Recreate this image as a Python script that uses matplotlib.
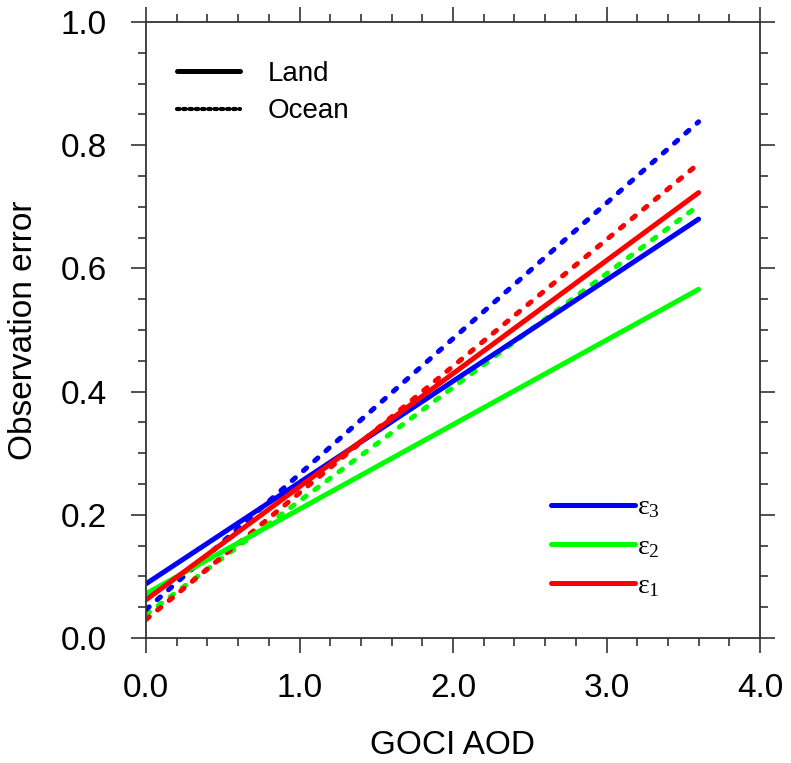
import matplotlib
matplotlib.use("Agg")
import matplotlib.pyplot as plt
from matplotlib.lines import Line2D
from matplotlib.ticker import MultipleLocator, FormatStrFormatter

plt.rcParams['font.family'] = ['Liberation Sans', 'DejaVu Sans']
plt.rcParams['mathtext.fontset'] = 'custom'
plt.rcParams['mathtext.rm'] = 'Liberation Serif'
plt.rcParams['mathtext.it'] = 'Liberation Serif'
plt.rcParams['mathtext.default'] = 'regular'

# ---- data ----
aod = [0.0, 3.6]
land_e1 = [0.062, 0.723]
land_e2 = [0.072, 0.566]
land_e3 = [0.088, 0.680]
ocean_e1 = [0.030, 0.770]
ocean_e2 = [0.038, 0.702]
ocean_e3 = [0.046, 0.838]

eps_labels = [r'$\mathregular{ε_3}$', r'$\mathregular{ε_2}$', r'$\mathregular{ε_1}$']
surface_labels = ['Land', 'Ocean']
xticks = [0.0, 1.0, 2.0, 3.0, 4.0]
yticks = [0.0, 0.2, 0.4, 0.6, 0.8, 1.0]

blue, green, red = '#0000ff', '#00ff00', '#ff0000'
LW = 3.6
DASH = (0.85, 2.15)

fig = plt.figure(figsize=(7.91, 7.63), dpi=100)
ax = fig.add_axes([146/791, 1 - 638/763, 614/791, 616/763])

def dashed(x, y, c):
    ax.plot(x, y, color=c, lw=LW, dashes=DASH, dash_capstyle='round',
            solid_capstyle='round')

def solid(x, y, c):
    ax.plot(x, y, color=c, lw=LW, solid_capstyle='round')

dashed(aod, ocean_e2, green)
dashed(aod, ocean_e1, red)
dashed(aod, ocean_e3, blue)
solid(aod, land_e2, green)
solid(aod, land_e3, blue)
solid(aod, land_e1, red)

ax.set_xlim(0, 4.0)
ax.set_ylim(0, 1.0)
ax.set_xticks(xticks)
ax.set_yticks(yticks)
ax.xaxis.set_minor_locator(MultipleLocator(0.2))
ax.yaxis.set_minor_locator(MultipleLocator(0.05))
ax.xaxis.set_major_formatter(FormatStrFormatter('%.1f'))
ax.yaxis.set_major_formatter(FormatStrFormatter('%.1f'))

fc = '#333333'
for s in ax.spines.values():
    s.set_linewidth(1.3)
    s.set_color(fc)
ax.tick_params(which='both', direction='out', top=True, right=True,
               color=fc, width=1.2)
ax.tick_params(which='major', length=11)
ax.tick_params(which='minor', length=5.5)
ax.tick_params(axis='x', which='major', labelsize=24, pad=14)
ax.tick_params(axis='y', which='major', labelsize=24, pad=17)

ax.set_xlabel('GOCI AOD', fontsize=24, labelpad=19)
ax.set_ylabel('Observation error', fontsize=24, labelpad=16)

# legend: line styles
h1 = [Line2D([], [], color='black', lw=LW, solid_capstyle='round'),
      Line2D([], [], color='black', lw=3.0, dashes=(0.6, 0.9),
             dash_capstyle='round')]
leg1 = ax.legend(h1, surface_labels, loc='upper left',
                 bbox_to_anchor=(0.051, 0.937), frameon=False, fontsize=20,
                 handlelength=2.25, handletextpad=1.0, labelspacing=0.42,
                 borderaxespad=0, borderpad=0)
ax.add_artist(leg1)

# legend: error types
h2 = [Line2D([], [], color=blue, lw=LW, solid_capstyle='round'),
      Line2D([], [], color=green, lw=LW, solid_capstyle='round'),
      Line2D([], [], color=red, lw=LW, solid_capstyle='round')]
leg2 = ax.legend(h2, eps_labels, loc='upper left',
                 bbox_to_anchor=(0.659, 0.232), frameon=False,
                 prop={'family': 'Liberation Serif', 'size': 20},
                 handlelength=3.05, handletextpad=0.05, labelspacing=0.5,
                 borderaxespad=0, borderpad=0)

fig.savefig('out.png', dpi=100)
